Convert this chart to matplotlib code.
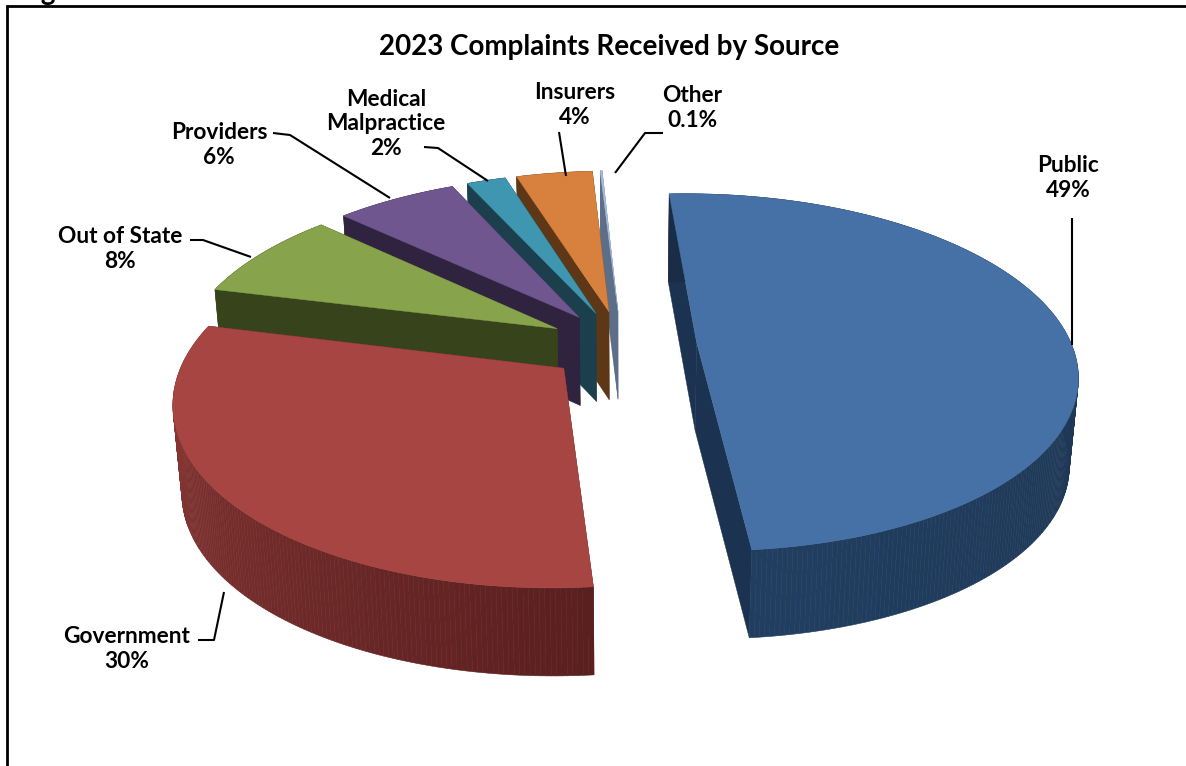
import numpy as np
import matplotlib
matplotlib.use("Agg")
import matplotlib.pyplot as plt
from matplotlib.patches import Polygon
from matplotlib.colors import to_rgb

# data
categories = ["Public", "Government", "Out of State", "Providers", "Medical\nMalpractice", "Insurers", "Other"]
shares = [49.4, 30.3, 8.1, 6.2, 2.0, 3.9, 0.1]
share_labels = ["49%", "30%", "8%", "6%", "2%", "4%", "0.1%"]
title = "2023 Complaints Received by Source"

# styles
top_colors = ["#4671A6", "#A64541", "#87A34B", "#6F568F", "#3F96B0", "#D8803D", "#A9BEDD"]
wall_colors = ["#1B3250", "#5A2020", "#37441B", "#2F233F", "#1B3F4C", "#5E3716", "#5C6E88"]
rim_start = ["#1B2D46", "#5A1F1F", "#37441B", "#2F233F", "#1B3F4C", "#5E3716", "#5C6E88"]
rim_end = ["#213E60", "#8F3B37", "#37441B", "#2F233F", "#1B3F4C", "#5E3716", "#5C6E88"]
start_angle = -3.0
CX, CY, R, K, P, EXPL, DEPTH, CONV = 622, 345, 375, 0.465, 0.167, 0.2, 88, 0.98

label_xy = [(1068, 178), (127, 649), (120, 249), (219, 145), (386, 124), (575, 105), (692, 108)]
leaders = [
    [(1072, 218), (1072, 345)],
    [(198, 640), (214, 640), (224, 592)],
    [(190, 240), (203, 240), (251, 257)],
    [(273, 133), (290, 135), (390, 198)],
    [(424, 147), (438, 148), (488, 181)],
    [(559, 132), (566, 176)],
    [(663, 133), (645, 133), (615, 173)],
]

plt.rcParams["font.family"] = ["Lato", "DejaVu Sans"]
fig = plt.figure(figsize=(11.86, 7.66), dpi=100)
ax = fig.add_axes([0, 0, 1, 1])
ax.set_xlim(0, 1186)
ax.set_ylim(766, 0)
ax.axis("off")


def project(X, Y, lower=False):
    s = 1 / (1 + P * Y)
    x = CX + R * X * s
    y = CY - R * K * Y * s
    if lower:
        x = CX + (x - CX) * CONV
        y = y + DEPTH
    return np.array([x, y]).T


def mix(a, b, t):
    a, b = np.array(to_rgb(a)), np.array(to_rgb(b))
    return tuple(a + (b - a) * t)


edges = start_angle + np.cumsum([0] + shares) * 3.6
for i in range(len(shares) - 1, -1, -1):
    a0, a1 = np.radians(edges[i]), np.radians(edges[i + 1])
    mid = (a0 + a1) / 2
    ox, oy = EXPL * np.sin(mid), EXPL * np.cos(mid)
    th = np.linspace(a0, a1, max(4, int(np.degrees(a1 - a0) * 1.5)))
    X = ox + np.sin(th)
    Y = oy + np.cos(th)
    ax0 = np.array([ox])
    ay0 = np.array([oy])
    # radial walls
    for idx in (0, -1):
        px = np.array([ox, X[idx]])
        py = np.array([oy, Y[idx]])
        t = project(px, py)
        b = project(px, py, True)
        ax.add_patch(Polygon(np.vstack([t, b[::-1]]), closed=True, fc=wall_colors[i], ec=wall_colors[i], lw=0.3, zorder=2 * (10 - i)))
    # rim
    tp = project(X, Y)
    bt = project(X, Y, True)
    for j in range(len(th) - 1):
        c = mix(rim_start[i], rim_end[i], j / max(1, len(th) - 2))
        ax.add_patch(Polygon([tp[j], tp[j + 1], bt[j + 1], bt[j]], closed=True, fc=c, ec=c, lw=0.4, zorder=2 * (10 - i)))
    # top
    apex = project(ax0, ay0)
    ax.add_patch(Polygon(np.vstack([apex, tp]), closed=True, fc=top_colors[i], ec=top_colors[i], lw=0.3, zorder=2 * (10 - i) + 1))

# labels and leader lines
for name, lab, (x, y), pts in zip(categories, share_labels, label_xy, leaders):
    ax.text(x, y, f"{name}\n{lab}", ha="center", va="center", fontsize=16.3, fontweight="bold", color="black", linespacing=1.22, zorder=50)
    p = np.array(pts)
    ax.plot(p[:, 0], p[:, 1], color="black", lw=1.5, zorder=49, solid_capstyle="butt")

ax.text(609, 47, title, ha="center", va="center", fontsize=20, fontweight="bold", color="black", zorder=50)

# frame and clipped heading above it
ax.plot([7, 7], [766, 6], color="black", lw=2, zorder=60, solid_capstyle="projecting")
ax.plot([7, 1186], [6, 6], color="black", lw=2, zorder=60, solid_capstyle="butt")
ax.text(19, 0, "Fig", ha="left", va="baseline", fontsize=20, fontweight="bold", color="black", clip_on=False)

fig.savefig("out.png", dpi=100)
